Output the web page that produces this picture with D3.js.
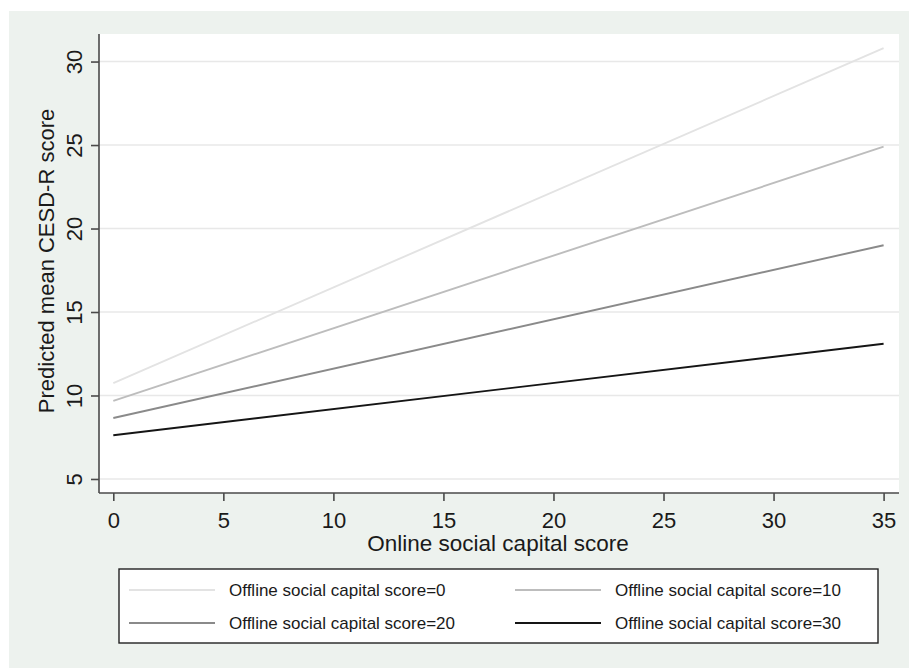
<!DOCTYPE html>
<html>
<head>
<meta charset="utf-8">
<script src="https://cdn.jsdelivr.net/npm/d3@7"></script>
<style>
  html, body { margin: 0; padding: 0; background: #ffffff; }
  svg { display: block; font-family: "Liberation Sans", Arial, sans-serif; }
</style>
</head>
<body>
<svg id="chart" width="909" height="669"></svg>
<script>
// Predicted mean CESD-R score by online social capital, at four offline levels
const onlineScore = [0, 35];
const offlineLevels = [0, 10, 20, 30];
const predOffline0  = [10.74, 30.80];
const predOffline10 = [9.68, 24.90];
const predOffline20 = [8.65, 19.00];
const predOffline30 = [7.62, 13.10];
const xTicks = [0, 5, 10, 15, 20, 25, 30, 35];
const yTicks = [5, 10, 15, 20, 25, 30];
const lineColors = ["#e3e3e3", "#bdbdbd", "#8a8a8a", "#151515"];
const legendLabels = offlineLevels.map(d => "Offline social capital score=" + d);

const series = [predOffline0, predOffline10, predOffline20, predOffline30].map((vals, i) => ({
  label: legendLabels[i],
  color: lineColors[i],
  points: onlineScore.map((x, j) => ({ x, y: vals[j] }))
}));

const svg = d3.select("#chart");

// outer graph region
svg.append("rect").attr("x", 9).attr("y", 11).attr("width", 900).attr("height", 657)
  .attr("fill", "#edf2ee");

const plot = { left: 99, right: 899, top: 34, bottom: 493 };
svg.append("rect").attr("x", plot.left).attr("y", plot.top)
  .attr("width", plot.right - plot.left).attr("height", plot.bottom - plot.top)
  .attr("fill", "#ffffff");

const x = d3.scaleLinear().domain([-0.65, 35.7]).range([plot.left, plot.right]);
const y = d3.scaleLinear().domain([4.16, 31.65]).range([plot.bottom, plot.top]);

// horizontal grid
svg.append("g").selectAll("line").data(yTicks).join("line")
  .attr("x1", plot.left).attr("x2", plot.right)
  .attr("y1", d => y(d)).attr("y2", d => y(d))
  .attr("stroke", "#e8e8e8").attr("stroke-width", 1.6);

// series lines
const line = d3.line().x(d => x(d.x)).y(d => y(d.y));
svg.append("g").selectAll("path").data(series).join("path")
  .attr("d", d => line(d.points))
  .attr("fill", "none")
  .attr("stroke", d => d.color)
  .attr("stroke-width", 1.9);

// axes
const axisColor = "#4a4a4a";
const yAxis = svg.append("g").attr("transform", `translate(${plot.left},0)`)
  .call(d3.axisLeft(y).tickValues(yTicks).tickSize(8).tickPadding(0).tickSizeOuter(0));
yAxis.select(".domain").attr("d", `M0,${plot.top}V${plot.bottom}`);
yAxis.selectAll(".tick text").remove();
yAxis.selectAll(".tick").append("text")
  .attr("transform", "translate(-17,0) rotate(-90)")
  .attr("text-anchor", "middle")
  .attr("fill", "#1a1a1a")
  .attr("font-size", 22)
  .text(d => d);

const xAxis = svg.append("g").attr("transform", `translate(0,${plot.bottom})`)
  .call(d3.axisBottom(x).tickValues(xTicks).tickSize(8).tickPadding(0).tickSizeOuter(0));
xAxis.select(".domain").attr("d", `M${plot.left},0H${plot.right}`);
xAxis.selectAll(".tick text").attr("font-size", 22).attr("fill", "#1a1a1a")
  .attr("font-family", "Liberation Sans, Arial, sans-serif")
  .attr("dy", null).attr("y", 35);

[yAxis, xAxis].forEach(g => {
  g.select(".domain").attr("stroke", axisColor).attr("stroke-width", 1.6);
  g.selectAll(".tick line").attr("stroke", axisColor).attr("stroke-width", 1.6);
});

// axis titles
svg.append("text")
  .attr("x", 498).attr("y", 551)
  .attr("text-anchor", "middle").attr("font-size", 22.5).attr("fill", "#1a1a1a")
  .text("Online social capital score");

svg.append("text")
  .attr("transform", `translate(54,261) rotate(-90)`)
  .attr("text-anchor", "middle").attr("font-size", 22).attr("fill", "#1a1a1a")
  .text("Predicted mean CESD-R score");

// legend
const legend = svg.append("g");
legend.append("rect").attr("x", 119).attr("y", 569).attr("width", 759).attr("height", 74)
  .attr("fill", "#ffffff").attr("stroke", "#222222").attr("stroke-width", 1.4);

const cols = [129, 515];
const rows = [590, 623];
series.forEach((s, i) => {
  const cx = cols[i % 2], cy = rows[Math.floor(i / 2)];
  legend.append("line").attr("x1", cx).attr("x2", cx + 86).attr("y1", cy).attr("y2", cy)
    .attr("stroke", s.color).attr("stroke-width", 1.9);
  legend.append("text").attr("x", cx + 100).attr("y", cy).attr("dy", "0.35em")
    .attr("font-size", 17).attr("fill", "#1a1a1a").text(s.label);
});
</script>
</body>
</html>
